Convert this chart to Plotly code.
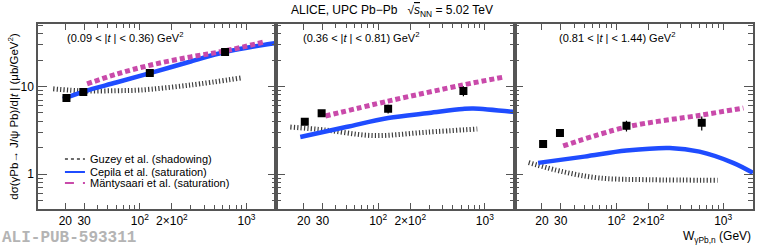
import plotly.graph_objects as go
from plotly.subplots import make_subplots

# ---- data ----
W_data = [20.5, 29.5, 124, 630]
sig_data = [
    [7.4, 8.65, 14.3, 24.8],
    [3.95, 4.95, 5.55, 8.9],
    [2.2, 2.95, 3.55, 3.85],
]
err_data = [
    [0.25, 0.3, 0.5, 1.0],
    [0.3, 0.3, 0.65, 1.15],
    [0.15, 0.2, 0.5, 0.7],
]

cep_W = [
    [19, 30, 60, 127, 300, 630, 1900],
    [18.6, 50, 124, 300, 620, 780, 1900],
    [18.4, 50, 124, 316, 600, 1240, 1900],
]
cep_sig = [
    [7.2, 8.8, 11.1, 14.3, 19.3, 24.8, 31.4],
    [2.65, 3.44, 4.37, 4.98, 5.53, 5.6, 5.1],
    [1.34, 1.58, 1.85, 1.98, 1.8, 1.34, 1.03],
]

man_W = [
    [32, 60, 127, 300, 630, 1500],
    [32, 124, 620, 1500],
    [31.6, 124, 630, 1550],
]
man_sig = [
    [10.7, 13.8, 17.6, 21.8, 25.5, 32.5],
    [4.6, 6.8, 10.4, 12.8],
    [2.09, 3.44, 4.72, 5.67],
]

guz_W = [
    [15.4, 30, 60, 100, 300, 880],
    [15, 32, 90, 280, 850],
    [15, 31.6, 69, 200, 890],
]
guz_sig = [
    [9.4, 8.9, 8.95, 9.1, 10.4, 12.5],
    [3.44, 3.18, 2.75, 3.0, 3.27],
    [1.35, 1.06, 0.9, 0.86, 0.85],
]

t_labels = [
    "(0.09 < |<i>t</i> | < 0.36) GeV<sup>2</sup>",
    "(0.36 < |<i>t</i> | < 0.81) GeV<sup>2</sup>",
    "(0.81 < |<i>t</i> | < 1.44) GeV<sup>2</sup>",
]
label_x = [0.113, 0.105, 0.176]

x_tickvals = [20, 30, 100, 200, 1000]
x_ticktext = ["20", "30", "10<sup>2</sup>", "2×10<sup>2</sup>", "10<sup>3</sup>"]
x_minor = [40, 50, 60, 70, 80, 90, 300, 400, 500, 600, 700, 800, 900, 2000]
y_tickvals = [1, 10]
y_ticktext = ["1", "10"]
y_minor = [0.5, 0.6, 0.7, 0.8, 0.9, 2, 3, 4, 5, 6, 7, 8, 9, 20, 30, 40, 50]

legend_names = ["Guzey et al. (shadowing)", "Cepila et al. (saturation)",
                "Mäntysaari et al. (saturation)"]

BLUE = "#1f4cff"
MAG = "#c94aaa"
GRAY = "#3c3c3c"
FONT = "Liberation Sans, Arial, sans-serif"

fig = make_subplots(rows=1, cols=3, shared_yaxes=True, horizontal_spacing=0)

for i in range(3):
    c = i + 1
    fig.add_trace(go.Scatter(x=guz_W[i], y=guz_sig[i], mode="lines", line_shape="spline",
                             line=dict(color=GRAY, width=5, dash="1.2px,2.2px"),
                             name=legend_names[0], showlegend=False), row=1, col=c)
    fig.add_trace(go.Scatter(x=cep_W[i], y=cep_sig[i], mode="lines", line_shape="spline",
                             line=dict(color=BLUE, width=4.5),
                             name=legend_names[1], showlegend=False), row=1, col=c)
    fig.add_trace(go.Scatter(x=man_W[i], y=man_sig[i], mode="lines", line_shape="spline",
                             line=dict(color=MAG, width=5, dash="5px,3px"),
                             name=legend_names[2], showlegend=False), row=1, col=c)
    fig.add_trace(go.Scatter(x=W_data, y=sig_data[i], mode="markers",
                             marker=dict(symbol="square", size=8, color="black"),
                             error_y=dict(type="data", array=err_data[i], color="black",
                                          thickness=1.2, width=0),
                             name="ALICE", showlegend=False), row=1, col=c)

axis_common = dict(showline=True, linecolor="#555", linewidth=1.5, mirror="ticks",
                   ticks="inside", tickcolor="#555", tickwidth=1.2, showgrid=False,
                   zeroline=False, tickfont=dict(family=FONT, size=12, color="black"))

for c in range(1, 4):
    fig.update_xaxes(type="log", range=[1.045, 3.28], tickmode="array",
                     tickvals=x_tickvals, ticktext=x_ticktext, ticklen=6,
                     minor=dict(tickmode="array", tickvals=x_minor, ticks="inside",
                                ticklen=4, tickcolor="#555"),
                     **axis_common, row=1, col=c)
    fig.update_yaxes(type="log", range=[-0.40, 1.714], tickmode="array",
                     tickvals=y_tickvals, ticktext=y_ticktext, ticklen=9,
                     showticklabels=(c == 1),
                     minor=dict(tickmode="array", tickvals=y_minor, ticks="inside",
                                ticklen=5, tickcolor="#555"),
                     **axis_common, row=1, col=c)

annotations = []
shapes = []
for i in range(3):
    xr = "x domain" if i == 0 else f"x{i+1} domain"
    yr = "y domain" if i == 0 else f"y{i+1} domain"
    annotations.append(dict(text=t_labels[i], xref=xr, yref=yr, x=label_x[i], y=0.93,
                            xanchor="left", yanchor="middle", showarrow=False,
                            font=dict(family=FONT, size=11, color="black")))

# manual legend in panel 1
leg_y = [0.27, 0.20, 0.14]
leg_style = [dict(color=GRAY, width=1.5, dash="dot"),
             dict(color=BLUE, width=2),
             dict(color=MAG, width=2, dash="dash")]
for k in range(3):
    shapes.append(dict(type="line", xref="x domain", yref="y domain",
                       x0=0.113, x1=0.197, y0=leg_y[k], y1=leg_y[k], line=leg_style[k]))
    annotations.append(dict(text=legend_names[k], xref="x domain", yref="y domain",
                            x=0.209, y=leg_y[k], xanchor="left", yanchor="middle",
                            showarrow=False, font=dict(family=FONT, size=11, color="black")))

annotations.append(dict(text="ALICE, UPC Pb−Pb   √<span style='text-decoration:overline'><i>s</i></span><sub>NN</sub> = 5.02 TeV",
                        xref="paper", yref="paper", x=0.495, y=1.07, xanchor="center",
                        yanchor="middle", showarrow=False,
                        font=dict(family=FONT, size=12, color="black")))
annotations.append(dict(text="dσ(γPb→ J/ψ Pb)/d|<i>t</i> | (μb/GeV<sup>2</sup>)",
                        xref="paper", yref="paper", x=-0.036, y=0.5, textangle=-90,
                        xanchor="center", yanchor="middle", showarrow=False,
                        font=dict(family=FONT, size=11.5, color="black")))
annotations.append(dict(text="W<sub>γPb,n</sub> (GeV)", xref="paper", yref="paper",
                        x=1.0, y=-0.15, xanchor="right", yanchor="middle", showarrow=False,
                        font=dict(family=FONT, size=12, color="black")))
annotations.append(dict(text="<b>ALI-PUB-593311</b>", xref="paper", yref="paper",
                        x=-0.053, y=-0.158, xanchor="left", yanchor="middle", showarrow=False,
                        font=dict(family="Liberation Mono, DejaVu Sans Mono, monospace",
                                  size=16, color="#b4b4b4")))

fig.update_layout(
    width=777, height=247,
    margin=dict(l=38, r=24, t=24, b=38),
    paper_bgcolor="white", plot_bgcolor="white",
    annotations=annotations,
    shapes=shapes,
    showlegend=False,
)

fig.write_html("out.html", config={"displayModeBar": False},
               post_script="document.body.style.margin='0';document.body.style.overflow='hidden';")
